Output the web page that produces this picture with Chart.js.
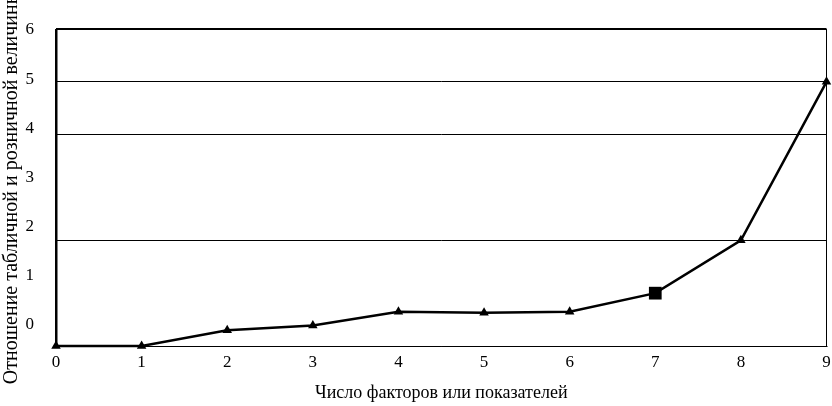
<!DOCTYPE html>
<html>
<head>
<meta charset="utf-8">
<script src="https://cdn.jsdelivr.net/npm/chart.js@4"></script>
<style>
    body { margin: 0; background: #fff; }
    #wrap { width: 832px; height: 406px; }
</style>
</head>
<body>
<div id="wrap"><canvas id="ratioChart" width="832" height="406"></canvas></div>
<script>
// Данные графика
const factorCounts = [0, 1, 2, 3, 4, 5, 6, 7, 8, 9];
const ratioValues = [0, 0, 0.3, 0.39, 0.65, 0.63, 0.65, 1.0, 2.0, 5.0];
const pointShapes = ['triangle', 'triangle', 'triangle', 'triangle', 'triangle', 'triangle', 'triangle', 'rect', 'triangle', 'triangle'];
const yGridValues = [0, 2, 4, 5, 6];
const yTickLabels = [0, 1, 2, 3, 4, 5, 6];

const serif = "'Liberation Serif', 'DejaVu Serif', serif";

const ctx = document.getElementById('ratioChart').getContext('2d');

new Chart(ctx, {
    type: 'line',
    data: {
        labels: factorCounts,
        datasets: [{
            data: factorCounts.map((x, i) => ({ x: x, y: ratioValues[i] })),
            yAxisID: 'y',
            borderColor: '#000',
            backgroundColor: '#000',
            borderWidth: 2.5,
            tension: 0,
            pointStyle: pointShapes,
            pointRadius: pointShapes.map(s => s === 'rect' ? 9 : 5.5),
            pointBorderWidth: 0,
            clip: false
        }]
    },
    options: {
        responsive: false,
        animation: false,
        layout: { padding: { top: 29, right: 4, left: 0, bottom: 0 } },
        plugins: {
            legend: { display: false },
            tooltip: { enabled: false }
        },
        scales: {
            x: {
                type: 'linear',
                min: 0,
                max: 9,
                afterFit: axis => {
                    axis.paddingLeft = 0;
                    axis.paddingRight = 0;
                },
                ticks: {
                    stepSize: 1,
                    color: '#000',
                    font: { family: serif, size: 17 },
                    padding: 6
                },
                grid: {
                    color: c => c.tick && (c.tick.value === 0 || c.tick.value === 9) ? '#000' : 'rgba(0,0,0,0)',
                    lineWidth: c => c.tick && c.tick.value === 0 ? 2.5 : 1,
                    drawTicks: false
                },
                border: { color: '#000', width: 1 },
                title: {
                    display: true,
                    text: 'Число факторов или показателей',
                    color: '#000',
                    font: { family: serif, size: 18 },
                    padding: { top: 4, bottom: 2 }
                }
            },
            yLabels: {
                position: 'left',
                min: -0.43,
                max: 6.02,
                afterBuildTicks: axis => {
                    axis.ticks = yTickLabels.map(v => ({ value: v }));
                },
                afterFit: axis => {
                    axis.width = 56;
                },
                ticks: {
                    color: '#000',
                    font: { family: serif, size: 17 },
                    padding: 14
                },
                grid: { display: false },
                border: { display: false },
                title: {
                    display: true,
                    text: 'Отношение табличной и розничной величины',
                    color: '#000',
                    font: { family: serif, size: 20 },
                    padding: { top: 0, bottom: 0 }
                }
            },
            y: {
                position: 'left',
                min: 0,
                max: 6,
                afterBuildTicks: axis => {
                    axis.ticks = yGridValues.map(v => ({ value: v }));
                },
                afterFit: axis => {
                    axis.width = 0;
                },
                ticks: { display: false },
                grid: {
                    color: '#000',
                    lineWidth: c => c.tick && c.tick.value === 6 ? 2 : 1,
                    drawTicks: false
                },
                border: { display: false }
            }
        }
    }
});
</script>
</body>
</html>
